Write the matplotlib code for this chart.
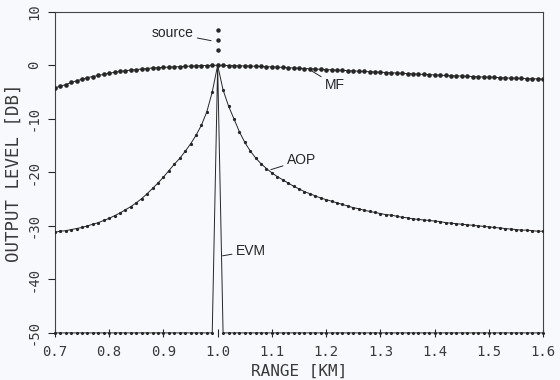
import numpy as np
import matplotlib
matplotlib.use("Agg")
import matplotlib.pyplot as plt

# range axis, one sample every 0.01 km
range_km = np.round(np.arange(0.70, 1.605, 0.01), 2)

# MF output level [dB]
mf = [-4.2, -3.9, -3.6, -3.2, -2.9, -2.6, -2.3, -2.1, -1.9, -1.7,
      -1.5, -1.3, -1.15, -1.0, -0.9, -0.8, -0.7, -0.6, -0.5, -0.45,
      -0.4, -0.35, -0.3, -0.25, -0.2, -0.15, -0.1, -0.07, -0.04, -0.02,
      0.0,
      -0.02, -0.04, -0.07, -0.1, -0.12, -0.15, -0.18, -0.22, -0.26, -0.3,
      -0.35, -0.4, -0.45, -0.5, -0.55, -0.6, -0.65, -0.7, -0.75, -0.8,
      -0.85, -0.9, -0.95, -1.0, -1.05, -1.1, -1.15, -1.2, -1.25, -1.3,
      -1.35, -1.4, -1.45, -1.5, -1.55, -1.6, -1.65, -1.7, -1.75, -1.8,
      -1.85, -1.9, -1.95, -2.0, -2.0, -2.05, -2.1, -2.15, -2.2, -2.2,
      -2.25, -2.3, -2.35, -2.4, -2.4, -2.45, -2.5, -2.5, -2.55, -2.6]

# AOP output level [dB]
aop = [-31.2, -31.0, -30.9, -30.7, -30.5, -30.3, -30.0, -29.7, -29.4, -29.0,
       -28.6, -28.1, -27.6, -27.0, -26.4, -25.7, -24.9, -24.0, -23.0, -22.0,
       -20.9, -19.7, -18.5, -17.4, -16.1, -14.7, -13.1, -11.2, -8.7, -5.0,
       0.0,
       -4.6, -7.6, -10.0, -12.4, -14.4, -16.0, -17.3, -18.4, -19.3, -20.1,
       -20.8, -21.4, -22.0, -22.6, -23.1, -23.6, -24.0, -24.4, -24.8, -25.1,
       -25.4, -25.7, -26.0, -26.3, -26.6, -26.8, -27.1, -27.3, -27.5, -27.7,
       -27.9, -28.0, -28.2, -28.4, -28.5, -28.7, -28.8, -28.9, -29.0, -29.1,
       -29.2, -29.4, -29.5, -29.6, -29.7, -29.8, -29.9, -30.0, -30.1, -30.2,
       -30.3, -30.4, -30.5, -30.6, -30.7, -30.8, -30.8, -30.9, -31.0, -31.0]

# EVM output level [dB], floor at -50 except at the source range
evm = [-50.0] * 30 + [0.0] + [-50.0] * 60

# source marker
source_x = [1.0, 1.0, 1.0]
source_y = [2.9, 4.8, 6.6]

ink = '#262626'
txt = '#3a3a3a'
paper = '#f8f9fc'

fig = plt.figure(figsize=(5.6, 3.8), dpi=100, facecolor=paper)
ax = fig.add_axes([0.098, 0.124, 0.872, 0.845], facecolor=paper)

ax.plot(range_km, evm, color=ink, lw=0.7, marker='o', ms=1.2, clip_on=False, zorder=3)
ax.plot(range_km, aop, color=ink, lw=0.7, marker='o', ms=1.3, zorder=3)
ax.plot(range_km, mf, color=ink, lw=0.7, marker='o', ms=2.3, zorder=4)
ax.plot(source_x, source_y, ls='none', color=ink, marker='o', ms=2.2)

ax.set_xlim(0.7, 1.6)
ax.set_ylim(-50, 10)
ax.set_xticks(np.round(np.arange(0.7, 1.65, 0.1), 1))
ax.set_yticks(np.arange(-50, 11, 10))
ax.set_xticklabels(['%.1f' % v for v in np.arange(0.7, 1.65, 0.1)],
                   family='DejaVu Sans Mono', fontsize=10, color=txt)
ax.set_yticklabels([str(v) for v in range(-50, 11, 10)],
                   family='DejaVu Sans Mono', fontsize=10, color=txt,
                   rotation=90, va='center')
ax.tick_params(axis='x', direction='inout', length=6, width=0.8, color=ink, pad=6)
ax.tick_params(axis='y', direction='out', length=5, width=0.8, color=ink, pad=5)

for s in ax.spines.values():
    s.set_color('#444444')
    s.set_linewidth(0.8)
ax.spines['bottom'].set_visible(False)

ax.set_xlabel('RANGE [KM]', family='DejaVu Sans Mono', fontsize=11.5,
              color=txt, labelpad=3)
ax.set_ylabel('OUTPUT LEVEL [DB]', family='DejaVu Sans Mono', fontsize=12.5,
              color=txt, labelpad=3)

lab = dict(family='Liberation Sans', fontsize=10, color=ink)
ax.annotate('source', xy=(0.988, 4.6), xytext=(0.955, 6.0),
            ha='right', va='center',
            arrowprops=dict(arrowstyle='-', color=ink, lw=0.7, shrinkA=1, shrinkB=0), **lab)
ax.annotate('MF', xy=(1.174, -1.1), xytext=(1.198, -3.7),
            ha='left', va='center',
            arrowprops=dict(arrowstyle='-', color=ink, lw=0.7, shrinkA=1, shrinkB=0), **lab)
ax.annotate('AOP', xy=(1.098, -19.5), xytext=(1.128, -17.7),
            ha='left', va='center',
            arrowprops=dict(arrowstyle='-', color=ink, lw=0.7, shrinkA=1, shrinkB=0), **lab)
ax.annotate('EVM', xy=(1.009, -35.6), xytext=(1.034, -34.7),
            ha='left', va='center',
            arrowprops=dict(arrowstyle='-', color=ink, lw=0.7, shrinkA=1, shrinkB=0), **lab)

plt.savefig('out.png', dpi=100, facecolor=paper)
